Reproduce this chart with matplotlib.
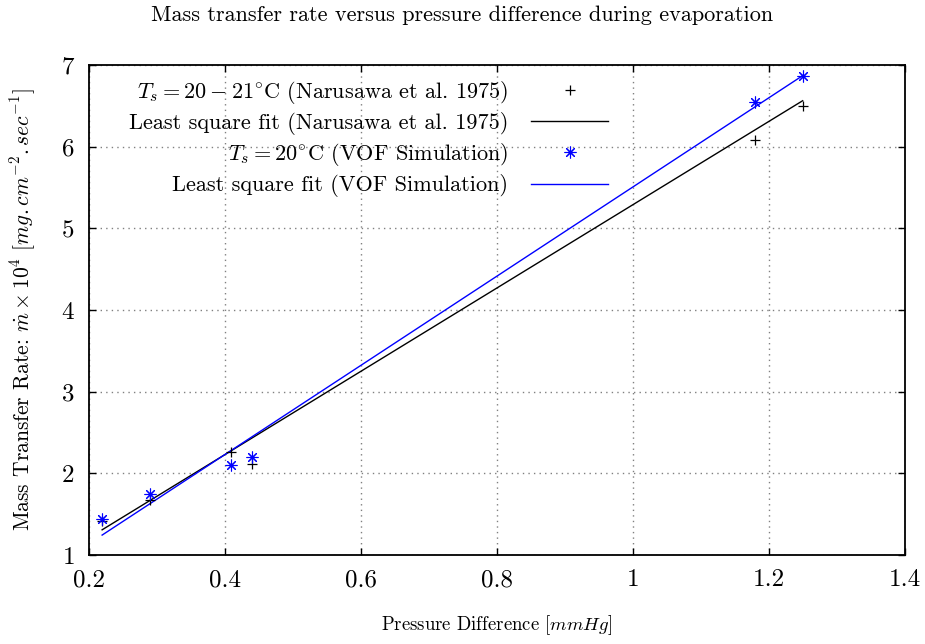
import numpy as np
import matplotlib
matplotlib.use("Agg")
import matplotlib.pyplot as plt

plt.rcParams['font.family'] = 'serif'
plt.rcParams['font.serif'] = ['cmr10', 'DejaVu Serif']
plt.rcParams['mathtext.fontset'] = 'cm'
plt.rcParams['axes.formatter.use_mathtext'] = True

# experiment (Narusawa et al. 1975)
dp_exp = [0.22, 0.29, 0.41, 0.44, 1.18, 1.25]
m_exp = [1.42, 1.67, 2.265, 2.12, 6.08, 6.50]

# VOF simulation
dp_vof = [0.22, 0.29, 0.41, 0.44, 1.18, 1.25]
m_vof = [1.44, 1.75, 2.10, 2.20, 6.55, 6.87]

# least square fits: (slope, intercept)
fit_exp = (5.10, 0.188)
fit_vof = (5.461, 0.044)

fig = plt.figure(figsize=(9.25, 6.44), dpi=100)
ax = fig.add_subplot(111)
fig.subplots_adjust(left=0.0957, right=0.978, top=0.899, bottom=0.138)

xf = np.array([min(dp_exp), max(dp_exp)])

ax.plot(dp_exp, m_exp, linestyle='none', marker='+', color='black', markersize=7,
        markeredgewidth=0.9, label=r'$T_s = 20 - 21^{\circ}$C (Narusawa et al. 1975)', zorder=3)
ax.plot(xf, fit_exp[0] * xf + fit_exp[1], color='black', linewidth=1.0,
        label='Least square fit (Narusawa et al. 1975)', zorder=2)
ax.plot(dp_vof, m_vof, linestyle='none', marker=(8, 2, 0), color='#0000ff', markersize=8.5,
        markeredgewidth=0.8, label=r'$T_s = 20^{\circ}$C (VOF Simulation)', zorder=3)
ax.plot(xf, fit_vof[0] * xf + fit_vof[1], color='#0000ff', linewidth=1.0,
        label='Least square fit (VOF Simulation)', zorder=2)

ax.set_xlim(0.2, 1.4)
ax.set_ylim(1, 7)
ax.set_xticks([0.2, 0.4, 0.6, 0.8, 1.0, 1.2, 1.4])
ax.set_xticklabels(['0.2', '0.4', '0.6', '0.8', '1', '1.2', '1.4'])
ax.set_yticks([1, 2, 3, 4, 5, 6, 7])

ax.grid(True, linestyle=(0, (1, 3)), color='#808080', linewidth=1.0)
ax.tick_params(direction='in', length=5, width=1.0, top=True, right=True,
               labelsize=18, pad=10)
for s in ax.spines.values():
    s.set_linewidth(1.3)

fig.suptitle('Mass transfer rate versus pressure difference during evaporation',
             fontsize=16, x=0.5, y=0.977, va='center')
ax.set_xlabel(r'Pressure Difference [$mmHg$]', fontsize=13.5, labelpad=16)
ax.set_ylabel(r'Mass Transfer Rate: $\dot{m}\times10^4$ [$mg.cm^{-2}.sec^{-1}$]',
              fontsize=15.5, labelpad=16)

leg = ax.legend(loc='upper right', bbox_to_anchor=(0.637, 0.972), frameon=False,
                markerfirst=False, fontsize=16, handlelength=3.5, handletextpad=1.0,
                labelspacing=0.28, borderpad=0, borderaxespad=0)

fig.savefig('out.png', dpi=100)
